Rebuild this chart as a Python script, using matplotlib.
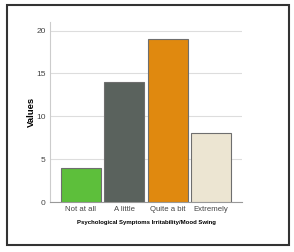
import matplotlib.pyplot as plt
from matplotlib.patches import Rectangle

categories = ['Not at all', 'A little', 'Quite a bit', 'Extremely']
values = [4, 14, 19, 8]
colors = ['#5dbf3b', '#5a625d', '#e0890f', '#ece5d2']
yticks = [0, 5, 10, 15, 20]

plt.rcParams['font.family'] = ['Liberation Sans', 'DejaVu Sans']

fig = plt.figure(figsize=(2.94, 2.52), dpi=100)
ax = fig.add_axes([0.170, 0.198, 0.653, 0.715])

x = list(range(len(categories)))
ax.bar(x, values, width=0.92, color=colors, edgecolor='#6e6e6e', linewidth=0.8, zorder=3)

ax.set_xlim(-0.71, 3.71)
ax.set_ylim(0, 21)
ax.set_yticks(yticks)
ax.set_xticks(x)
ax.set_xticklabels(categories)
ax.tick_params(axis='x', length=0, labelsize=5.6, labelcolor='#444444', pad=3)
ax.tick_params(axis='y', length=0, labelsize=6, labelcolor='#444444', pad=3)
ax.yaxis.grid(True, color='#dddddd', linewidth=0.8, zorder=0)

for side in ['top', 'right']:
    ax.spines[side].set_visible(False)
ax.spines['left'].set_color('#cccccc')
ax.spines['bottom'].set_color('#999999')
ax.spines['left'].set_linewidth(0.8)
ax.spines['bottom'].set_linewidth(0.8)

ax.set_ylabel('Values', fontsize=6.8, fontweight='bold', labelpad=0)
ax.set_xlabel('Psychological Symptoms Irritability/Mood Swing', fontsize=4.3, fontweight='bold', labelpad=5)

fig.patches.append(Rectangle((0.024, 0.028), 0.959, 0.952, transform=fig.transFigure,
                             fill=False, edgecolor='#333333', linewidth=1.5))

fig.savefig('out.png', dpi=100)
